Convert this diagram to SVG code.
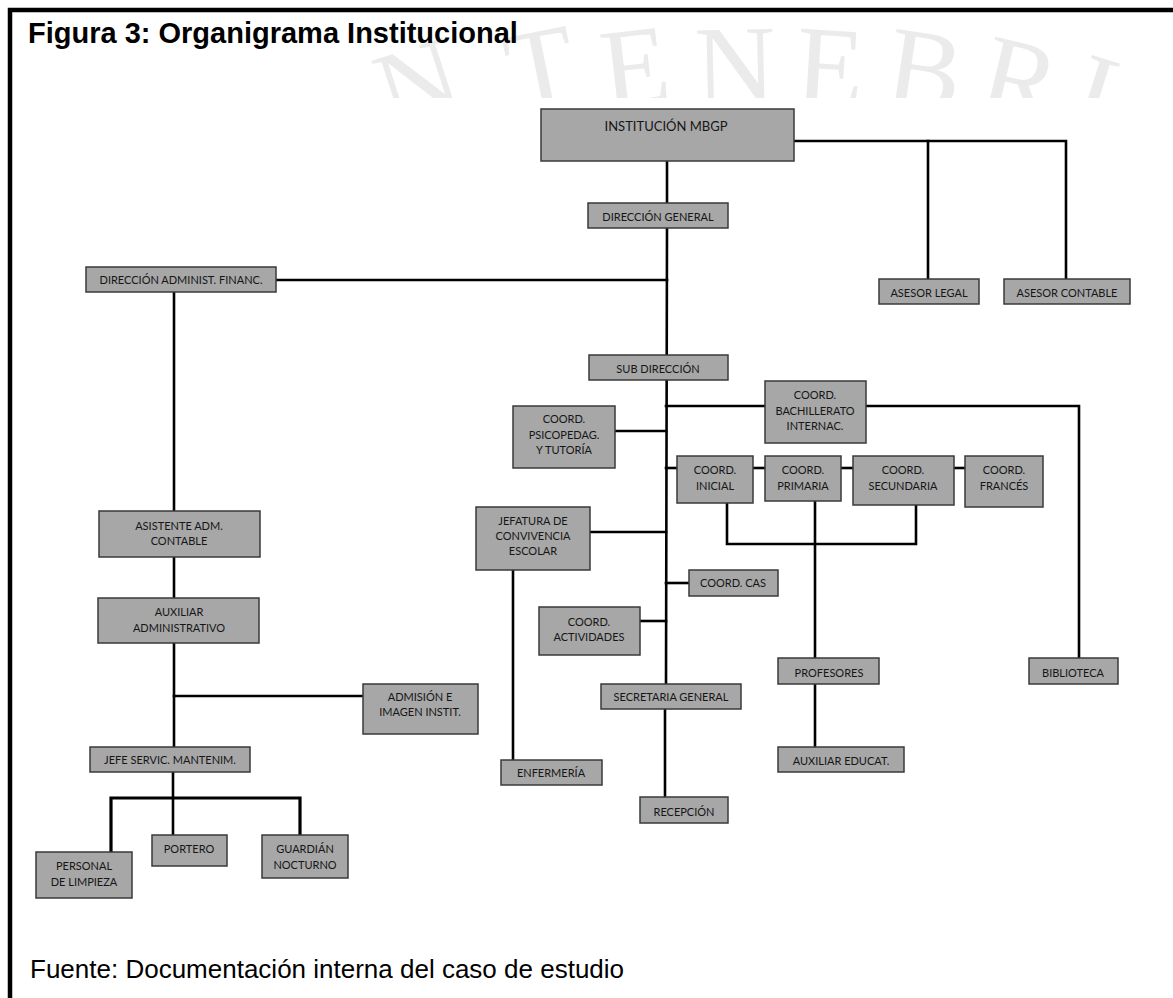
<svg xmlns="http://www.w3.org/2000/svg" width="1173" height="998" viewBox="0 0 1173 998">
<defs>
<style>
.box{fill:#a7a7a7;stroke:#3a3a3a;stroke-width:1.5}
.lbl{font-family:Lato,"Open Sans",sans-serif;font-size:11px;fill:#161616;text-anchor:middle}
.big{font-size:13px}
.ln{stroke:#000;stroke-width:2.6;fill:none;stroke-linecap:square;stroke-linejoin:miter}
.wm{font-family:"Liberation Serif","Times New Roman",serif;font-size:112px;fill:#ebebeb;text-anchor:middle}
.frame{stroke:#000;stroke-width:4.5;fill:none}
</style>
</defs>
<rect x="0" y="0" width="1173" height="998" fill="#ffffff"/>
<g id="watermark">
<text class="wm" transform="translate(418,84) rotate(-18)" y="37">N</text>
<text class="wm" transform="translate(541,68) rotate(-11.5)" y="37">T</text>
<text class="wm" transform="translate(635,67) rotate(-6.5)" y="37">E</text>
<text class="wm" transform="translate(735,66) rotate(-1.3)" y="37">N</text>
<text class="wm" transform="translate(830,67) rotate(3.6)" y="37">E</text>
<text class="wm" transform="translate(925,70) rotate(8.6)" y="37">B</text>
<text class="wm" transform="translate(1020,80) rotate(13.5)" y="37">R</text>
<text class="wm" transform="translate(1095,94) rotate(17.5)" y="37">I</text>
</g>
<rect id="diagram-sheet" x="13" y="98" width="1160" height="812" fill="#ffffff"/>
<path class="frame" d="M 10 998 L 10 10 L 1173 10"/>
<text x="28" y="43" font-family="Liberation Sans,Arial,sans-serif" font-weight="bold" font-size="29" fill="#000">Figura 3: Organigrama Institucional</text>

<g id="connectors">
<path class="ln" d="M 667 161 L 667 203"/>
<path class="ln" d="M 794 141 L 1066 141 L 1066 279"/>
<path class="ln" d="M 928 141 L 928 279"/>
<path class="ln" d="M 667 228 L 666 684"/>
<path class="ln" d="M 276 280 L 667 280"/>
<path class="ln" d="M 174 292 L 174 511"/>
<path class="ln" d="M 174 557 L 174 598"/>
<path class="ln" d="M 174 643 L 174 747"/>
<path class="ln" d="M 174 696 L 363 696"/>
<path class="ln" d="M 173 772 L 173 835"/>
<path class="ln" d="M 111 852 L 111 798 L 300 798 L 300 835" style="stroke-width:3.2"/>
<path class="ln" d="M 666 406 L 765 406"/>
<path class="ln" d="M 866 406 L 1079 406 L 1079 658"/>
<path class="ln" d="M 615 431 L 666 431"/>
<path class="ln" d="M 666 468 L 677 468"/>
<path class="ln" d="M 753 468 L 765 468"/>
<path class="ln" d="M 841 468 L 853 468"/>
<path class="ln" d="M 954 468 L 965 468"/>
<path class="ln" d="M 727 503 L 727 544 L 916 544 L 916 505"/>
<path class="ln" d="M 815 501 L 815 658"/>
<path class="ln" d="M 590 532 L 666 532"/>
<path class="ln" d="M 513 570 L 513 760"/>
<path class="ln" d="M 666 583 L 689 583"/>
<path class="ln" d="M 640 621 L 666 621"/>
<path class="ln" d="M 665 709 L 665 797"/>
<path class="ln" d="M 815 684 L 815 747"/>
</g>

<g id="n-institucion"><rect class="box" x="541" y="109" width="253" height="52"/><text class="lbl big" x="666" y="131">INSTITUCIÓN MBGP</text></g>
<g id="n-direccion-general"><rect class="box" x="588" y="203" width="140" height="25"/><text class="lbl" x="658" y="221">DIRECCIÓN GENERAL</text></g>
<g id="n-asesor-legal"><rect class="box" x="879" y="279" width="100" height="25"/><text class="lbl" x="929" y="297">ASESOR LEGAL</text></g>
<g id="n-asesor-contable"><rect class="box" x="1004" y="279" width="126" height="25"/><text class="lbl" x="1067" y="297">ASESOR CONTABLE</text></g>
<g id="n-dir-admin"><rect class="box" x="86" y="267" width="190" height="25"/><text class="lbl" x="181" y="284">DIRECCIÓN ADMINIST. FINANC.</text></g>
<g id="n-sub-direccion"><rect class="box" x="589" y="355" width="139" height="25"/><text class="lbl" x="658" y="373">SUB DIRECCIÓN</text></g>
<g id="n-bachillerato"><rect class="box" x="765" y="381" width="101" height="62"/><text class="lbl" x="815" y="399">COORD.</text><text class="lbl" x="815" y="414.5">BACHILLERATO</text><text class="lbl" x="815" y="430">INTERNAC.</text></g>
<g id="n-psicopedag"><rect class="box" x="513" y="406" width="102" height="62"/><text class="lbl" x="564" y="423">COORD.</text><text class="lbl" x="564" y="438.5">PSICOPEDAG.</text><text class="lbl" x="564" y="454">Y TUTORÍA</text></g>
<g id="n-inicial"><rect class="box" x="677" y="456" width="76" height="47"/><text class="lbl" x="715" y="474">COORD.</text><text class="lbl" x="715" y="490">INICIAL</text></g>
<g id="n-primaria"><rect class="box" x="765" y="456" width="76" height="45"/><text class="lbl" x="803" y="474">COORD.</text><text class="lbl" x="803" y="490">PRIMARIA</text></g>
<g id="n-secundaria"><rect class="box" x="853" y="456" width="101" height="49"/><text class="lbl" x="903" y="474">COORD.</text><text class="lbl" x="903" y="490">SECUNDARIA</text></g>
<g id="n-frances"><rect class="box" x="965" y="456" width="78" height="51"/><text class="lbl" x="1004" y="474">COORD.</text><text class="lbl" x="1004" y="490">FRANCÉS</text></g>
<g id="n-jefatura"><rect class="box" x="476" y="507" width="114" height="63"/><text class="lbl" x="533" y="525">JEFATURA DE</text><text class="lbl" x="533" y="540">CONVIVENCIA</text><text class="lbl" x="533" y="555">ESCOLAR</text></g>
<g id="n-cas"><rect class="box" x="689" y="570" width="89" height="26"/><text class="lbl" x="733" y="587">COORD. CAS</text></g>
<g id="n-actividades"><rect class="box" x="539" y="607" width="101" height="48"/><text class="lbl" x="589" y="626">COORD.</text><text class="lbl" x="589" y="641">ACTIVIDADES</text></g>
<g id="n-secretaria"><rect class="box" x="601" y="684" width="140" height="25"/><text class="lbl" x="671" y="701">SECRETARIA GENERAL</text></g>
<g id="n-profesores"><rect class="box" x="778" y="658" width="101" height="26"/><text class="lbl" x="829" y="677">PROFESORES</text></g>
<g id="n-biblioteca"><rect class="box" x="1029" y="658" width="89" height="26"/><text class="lbl" x="1073" y="677">BIBLIOTECA</text></g>
<g id="n-aux-educat"><rect class="box" x="778" y="747" width="126" height="25"/><text class="lbl" x="841" y="765">AUXILIAR EDUCAT.</text></g>
<g id="n-enfermeria"><rect class="box" x="501" y="760" width="101" height="25"/><text class="lbl" x="551" y="777">ENFERMERÍA</text></g>
<g id="n-recepcion"><rect class="box" x="640" y="797" width="88" height="26"/><text class="lbl" x="684" y="816">RECEPCIÓN</text></g>
<g id="n-asistente"><rect class="box" x="99" y="511" width="161" height="46"/><text class="lbl" x="179" y="530">ASISTENTE ADM.</text><text class="lbl" x="179" y="545">CONTABLE</text></g>
<g id="n-auxiliar-admin"><rect class="box" x="98" y="598" width="161" height="45"/><text class="lbl" x="179" y="616">AUXILIAR</text><text class="lbl" x="179" y="632">ADMINISTRATIVO</text></g>
<g id="n-admision"><rect class="box" x="363" y="684" width="115" height="50"/><text class="lbl" x="420" y="701">ADMISIÓN E</text><text class="lbl" x="420" y="716">IMAGEN INSTIT.</text></g>
<g id="n-jefe-servic"><rect class="box" x="90" y="747" width="160" height="25"/><text class="lbl" x="170" y="764">JEFE SERVIC. MANTENIM.</text></g>
<g id="n-personal"><rect class="box" x="36" y="852" width="96" height="46"/><text class="lbl" x="84" y="870">PERSONAL</text><text class="lbl" x="84" y="886">DE LIMPIEZA</text></g>
<g id="n-portero"><rect class="box" x="152" y="835" width="75" height="31"/><text class="lbl" x="189" y="853">PORTERO</text></g>
<g id="n-guardian"><rect class="box" x="262" y="835" width="86" height="43"/><text class="lbl" x="305" y="853">GUARDIÁN</text><text class="lbl" x="305" y="869">NOCTURNO</text></g>

<text x="30" y="978" font-family="Liberation Sans,Arial,sans-serif" font-size="26" fill="#000">Fuente: Documentación interna del caso de estudio</text>
</svg>
